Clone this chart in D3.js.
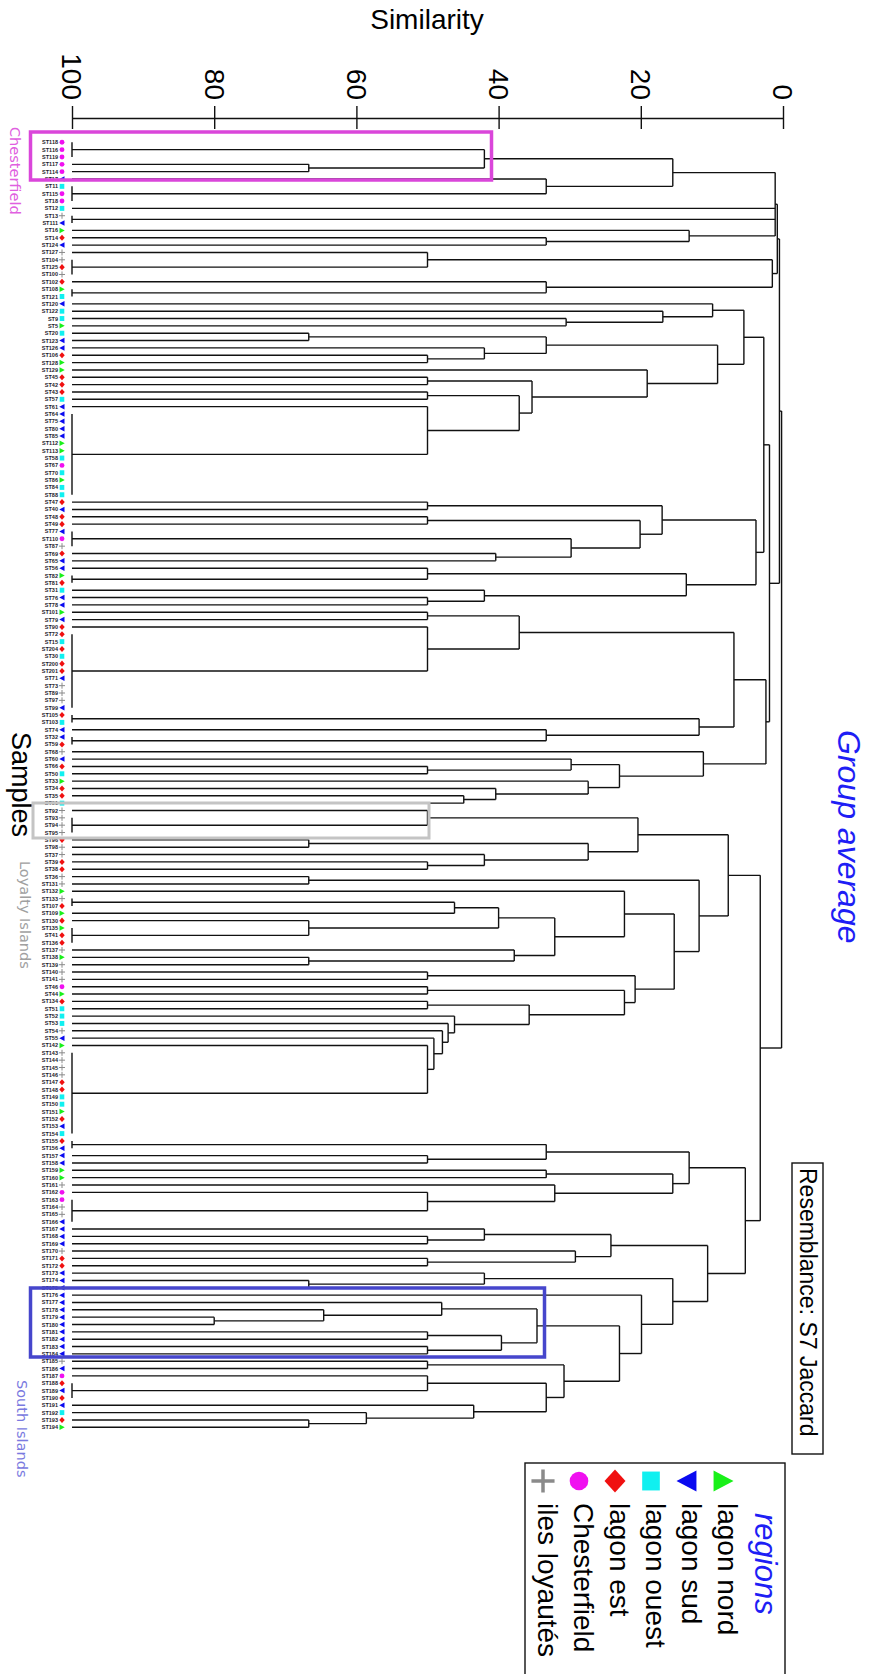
<!DOCTYPE html>
<html>
<head>
<meta charset="utf-8">
<script src="https://cdn.jsdelivr.net/npm/d3@7"></script>
<style>
  body { margin: 0; background: #fff; }
  svg { display: block; }
</style>
</head>
<body>
<svg id="chart" width="879" height="1674"></svg>
<script>
// ---- data ----
const simTicks = [100, 80, 60, 40, 20, 0];
const regionCodes = ["N", "S", "O", "E", "C", "L"];
const regionNames = ["lagon nord", "lagon sud", "lagon ouest", "lagon est", "Chesterfield", "iles loyautés"];
const regionColors = ["#19f019", "#0a0af0", "#10f0f0", "#f01010", "#f010f0", "#8a8a8a"];

// one code per leaf, top to bottom
const leafRegions = ("CCCCCSOCCO" + "LSNESLLELE" + "NOSOONOSSE" + "NNEEEOSSSS" + "SNNOCONOOE" +
  "SEESCLESSN" + "EOSSNSEEOE" + "OEESLLLSEO" + "SSELSEONEE" + "OLLLLELLEE" +
  "LLNLENENEE" + "LNLLLCNEOO" + "OLSNLLLLEE" + "OONESOESSS" + "NNLCCLLSSS" +
  "SLEESSSSSS" + "SSSSSSLSCE" + "SESOEN").split("");

const leafLabels = ("ST118 ST116 ST119 ST117 ST114 ST17 ST11 ST115 ST18 ST12 " +
  "ST13 ST111 ST16 ST14 ST124 ST127 ST104 ST125 ST100 ST102 " +
  "ST108 ST121 ST120 ST122 ST9 ST5 ST20 ST123 ST126 ST106 " +
  "ST128 ST129 ST45 ST42 ST43 ST57 ST61 ST64 ST75 ST80 " +
  "ST85 ST112 ST113 ST58 ST67 ST70 ST86 ST84 ST88 ST47 " +
  "ST40 ST48 ST49 ST77 ST110 ST87 ST69 ST65 ST56 ST82 " +
  "ST81 ST31 ST76 ST78 ST101 ST79 ST90 ST72 ST15 ST204 " +
  "ST30 ST200 ST201 ST71 ST73 ST89 ST97 ST99 ST105 ST103 " +
  "ST74 ST32 ST59 ST68 ST60 ST66 ST50 ST33 ST34 ST35 " +
  "ST91 ST92 ST93 ST94 ST95 ST96 ST98 ST37 ST39 ST38 " +
  "ST36 ST131 ST132 ST133 ST107 ST109 ST130 ST135 ST41 ST136 " +
  "ST137 ST138 ST139 ST140 ST141 ST46 ST44 ST134 ST51 ST52 " +
  "ST53 ST54 ST55 ST142 ST143 ST144 ST145 ST146 ST147 ST148 " +
  "ST149 ST150 ST151 ST152 ST153 ST154 ST155 ST156 ST157 ST158 " +
  "ST159 ST160 ST161 ST162 ST163 ST164 ST165 ST166 ST167 ST168 " +
  "ST169 ST170 ST171 ST172 ST173 ST174 ST175 ST176 ST177 ST178 " +
  "ST179 ST180 ST181 ST182 ST183 ST184 ST185 ST186 ST187 ST188 " +
  "ST189 ST190 ST191 ST192 ST193 ST194").split(" ");

// dendrogram clusters: leaf indices, (children)similarity
const clusterA = "(((0,1,2)100,(3,4)66.7)42,(5,(6,7,8)100)33.3)15.5";
const clusterB = "(12,(13,14)33.3)13.2";
const clusterC = "(15,(16,17,18)100)50";
const clusterD = "(19,(20,21)100)33.3";
const clusterE = "((22,(23,(24,25)30.5)16.9)9.9,(((26,27)66.7,(28,(29,30)50)42)33.3,(31,((32,33)50,((34,35)50,(36,(37,38,39,40,41,42,43,44,45,46,47,48)100)50)37.1)35.3)19.1)9.2)5.5";
const clusterF = "(((49,50)50,((51,52)50,((53,54,55)100,(56,57)40.4)29.8)20.1)17,((58,(59,60)100)50,(61,(62,63)50)42)13.6)3.8";
const clusterG = "(((64,65)50,(66,(67,68,69,70,71,72,73,74,75,76,77)100)50)37.1,((78,79)100,(80,(81,82)100)33.3)11.8)6.9";
const clusterH = "(83,((84,(85,86)50)29.8,(87,(88,(89,90)44.9)40.4)27.4)23)11.2";
const clusterI = "(((91,(92,93,94)100)50,((95,96)66.7,(97,(98,99)50)42)27.4)20.4,((100,101)66.7,((102,((((103,104)100,105)46.2,(106,(107,108,109)100)66.7)40,(110,(111,112)66.7)37.8)32.1)22.3,((113,114)50,((115,116)50,((117,118)50,(119,(120,(121,(122,(123,(124,125,126,127,128,129,130,131,132,133,134,135)100)50)49.1)47.9)47.1)46.2)35.7)22.3)20.8)15.3)11.8)7.7";
const clusterJ = "((((136,137)100,(138,139)50)33.3,((140,141)33.3,(142,(143,(144,145,146,147)100)50)32.1)15.5)13.2,(((148,(149,150)50)42,(151,(152,153)50)29.2)24.2,((154,(155,156)66.7)42,(157,(((158,(159,(160,161)80)64.6)48,((162,163)50,(164,165)50)39.6)34.6,((166,167)50,((168,(169,170,171)100)50,(172,(173,(174,175)66.7)58.6)43.5)33.3)30.8)23)19.9)15.5)10.6)5.3";

const treeNewick = `((((${clusterA},9,(10,11)100,${clusterB})1.1,(${clusterC},${clusterD})1.5)0.8,((${clusterE},${clusterF})2.7,(${clusterG},${clusterH})2.4)1.9)0.5,(${clusterI},${clusterJ})3.2)0.2`;

// ---- parse ----
function parseTree(str) {
  let pos = 0;
  function node() {
    if (str[pos] === "(") {
      pos++;
      const children = [node()];
      while (str[pos] === ",") { pos++; children.push(node()); }
      pos++; // ')'
      const m = /^[\d.]+/.exec(str.slice(pos));
      pos += m[0].length;
      return { sim: +m[0], children };
    }
    const m = /^\d+/.exec(str.slice(pos));
    pos += m[0].length;
    return { leaf: +m[0] };
  }
  return node();
}

const svg = d3.select("#chart");
const xSim = d3.scaleLinear().domain([100, 0]).range([72, 783]);
const yLeaf = d3.scaleLinear().domain([0, leafRegions.length - 1]).range([142.3, 1427.3]);

// ---- tree ----
const root = d3.hierarchy(parseTree(treeNewick), d => d.children);
root.eachAfter(n => {
  if (!n.children) {
    n.px = xSim(100);
    n.py = yLeaf(n.data.leaf);
  } else {
    n.px = xSim(n.data.sim);
    n.py = (n.children[0].py + n.children[n.children.length - 1].py) / 2;
  }
});

const tree = svg.append("g").attr("fill", "none").attr("stroke", "#111").attr("stroke-width", 1.4);
tree.selectAll("path.h")
  .data(root.descendants().filter(n => n.parent))
  .enter().append("path")
  .attr("class", "h")
  .attr("d", n => `M${n.px},${n.py}H${n.parent.px}`);
tree.selectAll("path.v")
  .data(root.descendants().filter(n => n.children))
  .enter().append("path")
  .attr("class", "v")
  .attr("d", n => `M${n.px},${n.children[0].py}V${n.children[n.children.length - 1].py}`);

// ---- symbols ----
function symbolPath(code, size) {
  const s = size;
  if (code === "N") return `M${-s * 0.45},${-s * 0.5}L${s * 0.5},0L${-s * 0.45},${s * 0.5}Z`;
  if (code === "S") return `M${s * 0.45},${-s * 0.5}L${-s * 0.5},0L${s * 0.45},${s * 0.5}Z`;
  if (code === "O") return `M${-s * 0.42},${-s * 0.45}H${s * 0.42}V${s * 0.45}H${-s * 0.42}Z`;
  if (code === "E") return `M0,${-s * 0.55}L${s * 0.5},0L0,${s * 0.55}L${-s * 0.5},0Z`;
  if (code === "C") return d3.symbol(d3.symbolCircle, s * s * 0.62)();
  return null;
}
function drawSymbol(g, code, size, plusWidth) {
  const color = regionColors[regionCodes.indexOf(code)];
  if (code === "L") {
    const h = size * 0.55;
    g.append("path").attr("d", `M${-h},0H${h}M0,${-h}V${h}`)
      .attr("stroke", color).attr("stroke-width", plusWidth).attr("fill", "none");
  } else {
    g.append("path").attr("d", symbolPath(code, size)).attr("fill", color);
  }
}

// leaves: labels + symbols
const leaves = svg.append("g");
leafRegions.forEach((code, i) => {
  const y = yLeaf(i);
  leaves.append("text")
    .attr("x", 58).attr("y", y + 2)
    .attr("text-anchor", "end")
    .attr("font-family", "Liberation Sans, Arial, sans-serif")
    .attr("font-size", 5.5).attr("font-weight", "bold")
    .attr("fill", "#1c1c2a")
    .text(leafLabels[i] || "");
  drawSymbol(leaves.append("g").attr("transform", `translate(62,${y})`), code, 5.5, 1);
});

// ---- axis ----
const axis = svg.append("g")
  .attr("transform", "translate(0,118)")
  .call(d3.axisBottom(xSim).tickValues(simTicks).tickSizeOuter(0).tickFormat(d3.format("d")));
axis.select(".domain").attr("stroke", "#111").attr("stroke-width", 1.4);
axis.selectAll(".tick line").attr("y1", -12).attr("y2", 11).attr("stroke", "#111").attr("stroke-width", 1.4);
axis.selectAll(".tick text")
  .attr("x", 0).attr("y", 0).attr("dy", "0.36em")
  .attr("transform", "translate(0,-18) rotate(90)")
  .attr("text-anchor", "end")
  .attr("font-family", "Liberation Sans, Arial, sans-serif")
  .attr("font-size", 28).attr("fill", "#000");

const sans = "Liberation Sans, Arial, sans-serif";
svg.append("text").attr("x", 427).attr("y", 29).attr("text-anchor", "middle")
  .attr("font-family", sans).attr("font-size", 28).text("Similarity");

function vText(x, y, txt, opts) {
  svg.append("text")
    .attr("transform", `translate(${x},${y}) rotate(90)`)
    .attr("font-family", opts.family || sans)
    .attr("font-size", opts.size)
    .attr("font-style", opts.italic ? "italic" : null)
    .attr("fill", opts.color || "#000")
    .text(txt);
}
vText(838, 730, "Group average", { size: 32, italic: true, color: "#1e1ef5" });
vText(12, 732, "Samples", { size: 27 });

// ---- highlight boxes ----
const dejavu = "DejaVu Sans, sans-serif";
svg.append("rect").attr("x", 30.5).attr("y", 132).attr("width", 461).attr("height", 48)
  .attr("fill", "none").attr("stroke", "#da46da").attr("stroke-width", 3.5);
vText(10, 127, "Chesterfield", { size: 14.5, family: dejavu, color: "#e060e0" });

svg.append("rect").attr("x", 33).attr("y", 803).attr("width", 396).attr("height", 35)
  .attr("fill", "none").attr("stroke", "#c4c4c4").attr("stroke-width", 3);
vText(20, 861, "Loyalty Islands", { size: 14.5, family: dejavu, color: "#a0a0a0" });

svg.append("rect").attr("x", 30.5).attr("y", 1288).attr("width", 514).attr("height", 69)
  .attr("fill", "none").attr("stroke", "#4646cc").attr("stroke-width", 3.5);
vText(17, 1380, "South Islands", { size: 14.5, family: dejavu, color: "#7a7ae0" });

// ---- resemblance ----
svg.append("rect").attr("x", 792).attr("y", 1163).attr("width", 31).attr("height", 291)
  .attr("fill", "#fff").attr("stroke", "#111").attr("stroke-width", 1.4);
vText(799.5, 1168, "Resemblance: S7 Jaccard", { size: 23 });

// ---- legend ----
svg.append("rect").attr("x", 525).attr("y", 1463).attr("width", 260).attr("height", 260)
  .attr("fill", "#fff").attr("stroke", "#111").attr("stroke-width", 1.4);
vText(755, 1513, "regions", { size: 31, italic: true, color: "#1e1ef5" });
regionCodes.forEach((code, i) => {
  const bx = 718 - i * 36;
  drawSymbol(svg.append("g").attr("transform", `translate(${bx + 5},1481)`), code, 21, 3.5);
  vText(bx, 1503, regionNames[i], { size: 28 });
});
</script>
</body>
</html>
